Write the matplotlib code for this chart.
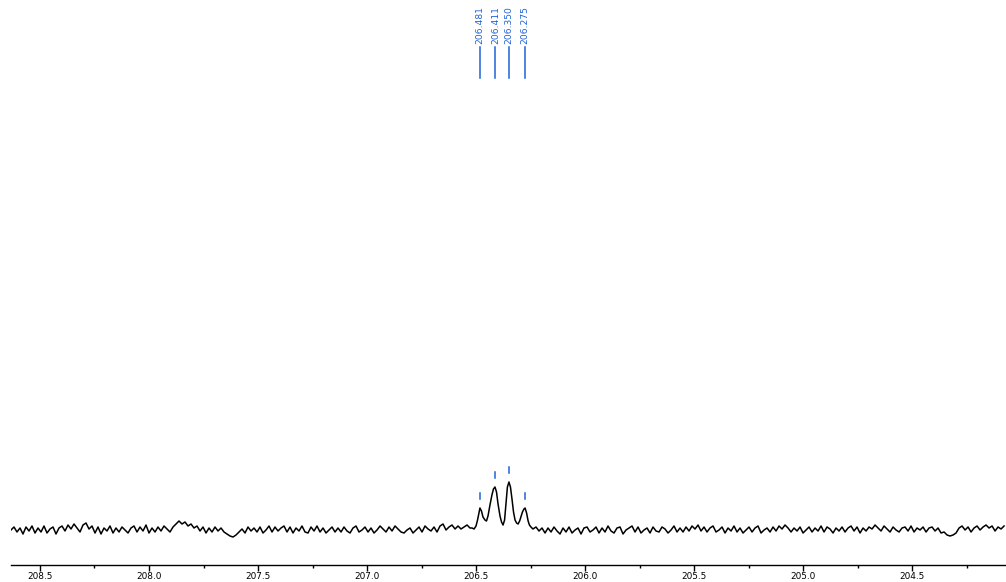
import numpy as np
import matplotlib
matplotlib.use("Agg")
import matplotlib.pyplot as plt

# ---- data (intensity in arbitrary units, baseline ~0) ----
noise_left = [
    0, 3, -2, 2, -4, 3, -1, 4, -3, 2,
    -2, 4, -3, 1, 3, -4, 2, 4, -1, 5,
    1, 6, 2, -2, 5, 7, 1, 4, -3, 3,
    -4, 2, -1, 4, -3, 2, -2, 3, 0, -3,
    2, 4, -2, 3, -1, 5, -3, 2, -2, 3,
    -1, 4, 1, -2, 3, 6, 9, 6, 8, 4,
    6, 2, 4, -1, 3, -3, 2, -2, 3, -1,
    2, -2, -4, -6, -7, -5, -2, 1, -3, 3,
    -1, 2, -2, 3, -3, 0, 4, -2, 3, -1,
    2, 4, -2, 3, -3, 2, -1, 4, -2, -3,
    3, -1, 4, -2, 2, -3, 0, 3, -2, 2,
    -2, 3, -1, -3, 2, 4, -2, 0, 3, -2,
    2, -3, 0, 4, 1, -2, 3, -1, 4, 1,
    -2, -3, 0, 2, -3, 0, 3, -2, 4, 1,
    -1, 3, -2, 4, 6, 0, 3, 5, 1, 4,
    1, 3, 5, 2,
]
noise_left_ppm_range = (208.633, 206.5275)

peak_ppm = [206.518, 206.509, 206.500, 206.493, 206.486, 206.482, 206.475,
            206.468, 206.459, 206.452, 206.445, 206.436, 206.427, 206.420,
            206.413, 206.406, 206.399, 206.390, 206.383, 206.376, 206.369,
            206.362, 206.356, 206.349, 206.342, 206.335, 206.328, 206.321,
            206.314, 206.307, 206.300, 206.294, 206.287, 206.280, 206.275,
            206.268, 206.261, 206.255, 206.248, 206.239]
peak_int = [2, 1, 4, 10, 18, 22, 19,
            13, 10, 9, 14, 25, 35, 41,
            43, 38, 26, 14, 8, 5, 10,
            28, 43, 48, 43, 31, 18, 10,
            7, 6, 9, 13, 18, 21, 22,
            17, 9, 5, 3, 1]

noise_right = [
    3, -1, 2, -3, 2, -2, 3, -1, -4, 2,
    -2, 3, -3, 0, 2, -4, 2, 3, -2, 0,
    3, -3, 2, -2, 4, -1, -3, 2, 3, -4,
    0, 2, 4, -2, 3, -3, 0, 2, -3, 3,
    -1, -2, 3, 1, -3, 0, 4, -2, 2, -2,
    3, -1, 4, 1, 5, -1, 3, -2, 2, 4,
    -2, 0, 3, -3, 2, -1, 4, -2, 2, -3,
    0, 3, -2, 2, 4, -3, 0, 2, -2, 3,
    -1, 4, 1, 5, 2, -2, 2, -1, 3, -3,
    0, 3, -2, 2, -1, 4, -2, 3, 1, -3,
    2, -1, 3, -2, 2, 4, -1, 3, -3, 2,
    -1, 3, 1, 5, 2, -1, 4, 1, -2, 3,
    0, -2, 2, 3, -1, 4, -2, 2, 0, 3,
    -2, 2, 3, -1, 2, -3, -2, -5, -6, -5,
    -3, 2, 4, 0, 3, -2, 2, 4, 0, 3,
    5, 2, 4, -1, 3, 1, 4,
]
noise_right_ppm_range = (206.2248, 204.0779)

peak_labels = ["206.481", "206.411", "206.350", "206.275"]
peak_pos = [206.481, 206.411, 206.350, 206.275]
peak_heights = [22, 43, 48, 22]

major_ticks = [208.5, 208.0, 207.5, 207.0, 206.5, 206.0, 205.5, 205.0, 204.5]
minor_ticks = [208.25, 207.75, 207.25, 206.75, 206.25, 205.75, 205.25, 204.75, 204.25]

# ---- assemble spectrum ----
ppm_left = np.linspace(*noise_left_ppm_range, len(noise_left))
ppm_right = np.linspace(*noise_right_ppm_range, len(noise_right))
ppm = np.concatenate([ppm_left, peak_ppm, ppm_right])
inten = np.concatenate([noise_left, peak_int, noise_right]).astype(float)

W, H = 1006, 582
fig = plt.figure(figsize=(W / 100, H / 100), dpi=100)
ax = fig.add_axes([11 / W, (H - 565) / H, (W - 11) / W, 565 / H])
ax.plot(ppm, inten, color="black", lw=1.1)
ax.set_xlim(208.633, 204.069)
ax.set_ylim(-35, 530)

for s in ["top", "left", "right"]:
    ax.spines[s].set_visible(False)
ax.spines["bottom"].set_linewidth(1.0)
ax.set_yticks([])
ax.set_xticks(major_ticks)
ax.set_xticklabels([f"{t:.1f}" for t in major_ticks])
ax.set_xticks(minor_ticks, minor=True)
ax.tick_params(axis="x", which="major", length=4, width=1, labelsize=6.4, pad=1.0)
ax.tick_params(axis="x", which="minor", length=2.5, width=1)

blue = "#1f63d6"
for lab, p, h in zip(peak_labels, peak_pos, peak_heights):
    ax.plot([p, p], [452, 483], color=blue, lw=1.1)
    ax.text(p, 486, lab, rotation=90, ha="center", va="bottom",
            fontsize=6.6, color=blue)
    ax.plot([p, p], [h + 9, h + 15], color=blue, lw=1.1)

fig.savefig("out.png", dpi=100)
